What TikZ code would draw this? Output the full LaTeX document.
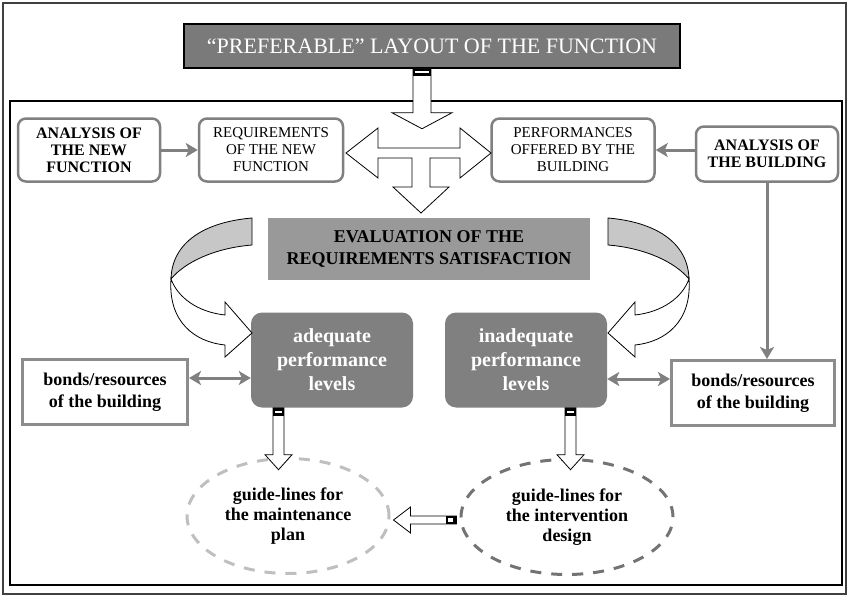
\documentclass[tikz,border=0pt]{standalone}
\usepackage{fontspec}
\setmainfont{Liberation Serif}
\usetikzlibrary{arrows.meta, shapes.geometric}

\begin{document}
\begin{tikzpicture}[
        x=1pt, y=-1pt,
        box/.style={rectangle, rounded corners=8pt, draw=black!50, line width=2.5pt, fill=white, minimum height=63pt, align=center, inner sep=2pt},
        capsbold/.style={font=\fontsize{16}{17}\selectfont\bfseries},
        caps/.style={font=\fontsize{15}{17}\selectfont},
        bonds/.style={rectangle, draw=black!45, line width=3pt, fill=white, minimum width=165pt, minimum height=65pt, align=center, font=\fontsize{18}{22}\selectfont\bfseries},
        level/.style={rectangle, rounded corners=11pt, fill=black!50, text=white, minimum width=162pt, minimum height=95pt, align=center, font=\fontsize{20}{24}\selectfont\bfseries},
        guide/.style={ellipse, line width=3pt, dash pattern=on 11pt off 10pt, minimum height=115pt, inner sep=0pt, align=center, font=\fontsize{18}{20}\selectfont\bfseries},
        arrow/.style={-{Stealth[length=12pt, width=14pt, inset=3pt]}, draw=black!50, line width=3pt},
        twoway/.style={{Stealth[length=12pt, width=14pt, inset=3pt]}-{Stealth[length=12pt, width=14pt, inset=3pt]}, draw=black!50, line width=3pt},
        blockarrow/.style={draw=black, fill=white, line width=0.8pt},
        band/.style={fill=black}
    ]
        \useasboundingbox (0,0) rectangle (849,597);

        % Frames
        \draw[line width=2.5pt, black!75] (3,3) rectangle (846,594);
        \draw[line width=1.2pt] (10,101) rectangle (842,585);

        % Define nodes
        \node (title) [rectangle, draw, line width=1.5pt, fill=black!52, text=white, minimum width=496pt, minimum height=44pt, font=\fontsize{22}{24}\selectfont] at (432,46) {“PREFERABLE” LAYOUT OF THE FUNCTION};

        \node (newfunc) [box, capsbold, minimum width=142pt] at (89,150) {ANALYSIS OF\\THE NEW\\FUNCTION};
        \node (req) [box, caps, minimum width=144pt] at (271,150) {REQUIREMENTS\\OF THE NEW\\FUNCTION};
        \node (perf) [box, caps, minimum width=163pt] at (573,150) {PERFORMANCES\\OFFERED BY THE\\BUILDING};
        \node (building) [box, capsbold, minimum width=142pt, minimum height=55pt] at (767,154) {ANALYSIS OF\\THE BUILDING};

        \node (eval) [rectangle, fill=black!40, minimum width=322pt, minimum height=62pt, align=center, font=\fontsize{18}{22}\selectfont\bfseries] at (429,249) {EVALUATION OF THE\\REQUIREMENTS SATISFACTION};

        \node (adequate) [level] at (332,360) {adequate\\performance\\levels};
        \node (inadequate) [level] at (526,360) {inadequate\\performance\\levels};

        \node (bondsleft) [bonds] at (105,392) {bonds/resources\\of the building};
        \node (bondsright) [bonds, minimum width=163pt] at (753,393) {bonds/resources\\of the building};

        \node (maintenance) [guide, draw=black!25, minimum width=202pt] at (288,516) {guide-lines for\\the maintenance\\plan};
        \node (intervention) [guide, draw=black!55, minimum width=212pt] at (567,517) {guide-lines for\\the intervention\\design};

        \coordinate (hub) at (419,153);

        % Gray arrows
        \draw[arrow] (newfunc) -- (req);
        \draw[arrow] (building.west |- perf.east) -- (perf.east);
        \draw[arrow] (building.south) -- (building.south |- bondsright.north);
        \draw[twoway] ([yshift=14pt]bondsleft.east) -- ([yshift=14pt]bondsleft.east -| adequate.west);
        \draw[twoway] ([yshift=14pt]bondsright.west -| inadequate.east) -- ([yshift=14pt]bondsright.west);

        % Block arrows
        \draw[blockarrow] (title.south) ++(-19,0) -- ++(0,44) -- ++(-21,0) -- ++(30,16) -- ++(30,-16) -- ++(-21,0) -- ++(0,-44) -- cycle;
        \fill[band] (title.south) ++(-19,0) rectangle ++(18,7);
        \fill[white] (title.south) ++(-17,2.5) rectangle ++(14,2);

        \draw[blockarrow] (hub) ++(-73,0) -- ++(32,-25) -- ++(0,20) -- ++(82,0) -- ++(0,-20) -- ++(31,25) -- ++(-31,25) -- ++(0,-20) -- ++(-30,0) -- ++(0,29) -- ++(19,0) -- ++(-28,26) -- ++(-28,-26) -- ++(19,0) -- ++(0,-29) -- ++(-34,0) -- ++(0,20) -- cycle;

        \draw[blockarrow] (adequate.south) ++(-59,0) -- ++(0,47) -- ++(-8,0) -- ++(13.5,15) -- ++(13.5,-15) -- ++(-8,0) -- ++(0,-47) -- cycle;
        \fill[band] (adequate.south) ++(-59,0) rectangle ++(11,8);
        \fill[white] (adequate.south) ++(-57,3) rectangle ++(7,2);

        \draw[blockarrow] (inadequate.south) ++(39,0) -- ++(0,47) -- ++(-8,0) -- ++(13.5,15) -- ++(13.5,-15) -- ++(-8,0) -- ++(0,-47) -- cycle;
        \fill[band] (inadequate.south) ++(39,0) rectangle ++(11,8);
        \fill[white] (inadequate.south) ++(41,3) rectangle ++(7,2);

        \draw[blockarrow] (intervention.west) ++(-3,-1) -- ++(-46,0) -- ++(0,-9) -- ++(-17,13) -- ++(17,13) -- ++(0,-9) -- ++(46,0) -- cycle;
        \fill[band] (intervention.west) ++(-14,-1) rectangle ++(11,8);
        \fill[white] (intervention.west) ++(-12,1) rectangle ++(5,4);

        % Ribbon arrows round the evaluation box
        \draw[fill=black!22, line width=0.8pt] (252,218) .. controls (205,222) and (172,242) .. (171,279) .. controls (185,262) and (215,248) .. (252,245) -- cycle;
        \draw[blockarrow] (171,279) .. controls (168,322) and (195,342) .. (225,345) -- (225,357) -- (252,333) -- (225,302) -- (225,315) .. controls (198,312) and (178,298) .. (171,279) -- cycle;

        \draw[fill=black!22, line width=0.8pt] (608,218) .. controls (655,222) and (688,242) .. (689,279) .. controls (675,262) and (645,248) .. (608,245) -- cycle;
        \draw[blockarrow] (689,279) .. controls (692,322) and (665,342) .. (635,345) -- (635,357) -- (608,333) -- (635,302) -- (635,315) .. controls (662,312) and (682,298) .. (689,279) -- cycle;
    \end{tikzpicture}
\end{document}
